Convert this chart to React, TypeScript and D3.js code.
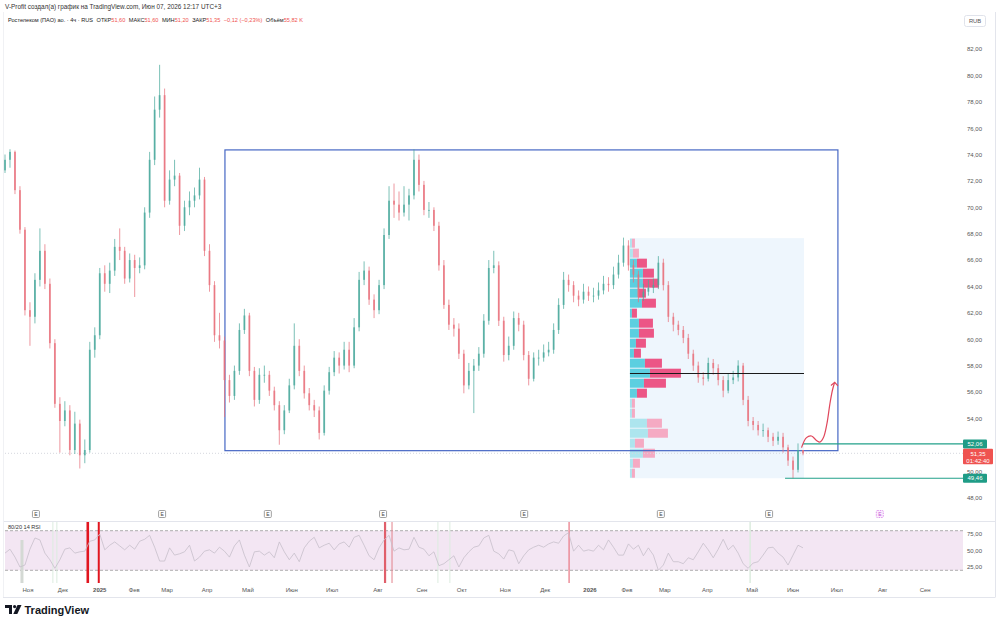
import React, { useEffect, useRef } from 'react';
import * as d3 from 'd3';

// 4h candles, resampled (~one candle every 5px of the original picture)
const firstOpen = 72.8;
const closes = [
  73.6, 74.2, 71.3, 68.3, 62.2, 61.7, 64.5, 66.7, 64.2, 59.7,
  55.1, 53.8, 54.6, 51.6, 53.6, 51.2, 51.6, 59.2, 60.3, 65.0,
  64.2, 65.2, 67.0, 66.7, 64.6, 66.0, 65.4, 65.6, 69.6, 73.6,
  77.4, 78.5, 70.5, 72.1, 72.4, 68.6, 70.0, 70.5, 70.9, 72.1,
  66.7, 64.1, 60.3, 59.9, 56.9, 55.7, 57.6, 60.7, 61.8, 57.6,
  55.4, 57.3, 57.3, 56.1, 55.0, 53.1, 54.6, 56.5, 59.5, 57.6,
  55.9, 55.0, 54.6, 52.9, 56.1, 57.5, 58.6, 58.0, 59.2, 58.0,
  60.9, 64.5, 65.2, 63.0, 62.2, 64.1, 67.9, 70.5, 70.2, 69.6,
  70.2, 70.9, 73.6, 71.7, 69.8, 69.8, 68.6, 65.6, 62.6, 61.1,
  60.8, 58.9, 56.5, 57.6, 58.0, 58.9, 61.4, 65.4, 65.6, 61.4,
  58.8, 59.5, 61.6, 61.1, 58.8, 57.0, 58.6, 58.6, 59.0, 59.2,
  60.7, 62.6, 64.5, 64.1, 63.3, 63.0, 63.6, 63.3, 63.3, 63.7,
  64.2, 64.1, 64.9, 65.8, 67.1, 65.6, 64.9, 63.2, 63.6, 63.9,
  64.1, 65.8, 64.1, 61.7, 61.1, 60.7, 60.1, 58.9, 58.0, 57.1,
  57.0, 58.2, 57.8, 56.9, 56.1, 56.9, 57.1, 58.0, 55.4, 53.8,
  53.5, 53.1, 53.1, 52.6, 52.3, 52.6, 51.8, 50.8, 50.1, 51.6,
  51.35,
];
const highs = [
  74.0, 74.4, 74.3, 71.6, 68.5, 62.8, 65.0, 68.4, 67.2, 64.6,
  60.0, 55.6, 55.3, 55.0, 54.5, 53.9, 52.4, 59.8, 60.9, 65.4,
  65.6, 65.8, 67.6, 68.4, 67.0, 66.5, 66.4, 66.2, 70.0, 74.2,
  78.4, 80.8, 79.0, 72.8, 73.6, 72.6, 70.5, 71.2, 71.5, 73.0,
  72.3, 67.2, 64.4, 62.0, 60.2, 57.3, 58.0, 61.2, 62.3, 62.0,
  57.9, 57.8, 58.0, 57.6, 56.4, 55.3, 55.0, 57.0, 61.2, 60.0,
  58.0, 56.3, 55.4, 54.9, 56.5, 57.9, 59.1, 59.0, 59.8, 59.8,
  61.6, 65.1, 65.9, 65.5, 63.4, 64.5, 68.4, 71.6, 71.8, 71.2,
  71.6, 71.4, 74.4, 74.0, 72.0, 70.4, 70.0, 68.9, 66.0, 63.0,
  61.6, 61.2, 59.2, 58.2, 58.5, 59.4, 61.9, 66.0, 66.7, 65.9,
  61.7, 60.2, 62.1, 62.0, 61.4, 59.1, 59.0, 59.2, 59.6, 59.8,
  61.2, 63.1, 65.1, 64.9, 64.4, 63.7, 64.2, 64.0, 63.9, 64.3,
  64.8, 64.7, 65.5, 66.4, 67.7, 67.5, 66.0, 65.2, 64.2, 64.5,
  64.6, 66.3, 66.1, 64.4, 62.0, 61.4, 61.0, 60.4, 59.2, 58.3,
  57.5, 58.6, 58.5, 58.1, 57.2, 57.4, 57.6, 58.4, 58.2, 55.7,
  54.1, 53.8, 53.6, 53.3, 52.9, 53.0, 52.9, 52.0, 51.1, 52.1,
  51.6,
];
const lows = [
  72.6, 73.0, 71.0, 68.0, 61.8, 59.5, 61.2, 64.0, 63.8, 59.3,
  54.8, 51.4, 53.4, 51.2, 51.3, 50.2, 50.6, 51.4, 58.6, 60.0,
  63.6, 63.5, 64.8, 66.0, 64.2, 64.3, 63.2, 65.0, 65.3, 69.2,
  73.2, 76.8, 70.0, 70.2, 71.6, 67.9, 68.2, 69.4, 70.0, 70.6,
  66.3, 63.6, 59.8, 59.3, 54.1, 55.2, 55.4, 57.3, 60.4, 57.2,
  54.9, 55.1, 56.7, 55.7, 54.6, 52.0, 52.8, 54.4, 56.2, 57.2,
  55.5, 54.6, 54.1, 52.4, 52.7, 55.8, 57.2, 57.4, 57.7, 57.5,
  57.8, 60.6, 64.1, 62.6, 61.6, 61.9, 63.8, 67.6, 69.2, 69.0,
  69.3, 69.0, 70.6, 71.2, 69.4, 69.2, 68.2, 65.2, 62.3, 60.7,
  60.2, 58.5, 55.9, 56.2, 54.4, 57.6, 58.6, 61.1, 65.0, 61.0,
  58.3, 58.4, 59.2, 60.6, 58.4, 56.5, 56.8, 58.0, 58.3, 58.7,
  58.9, 60.4, 62.3, 63.6, 62.8, 62.5, 62.7, 62.9, 62.8, 63.0,
  63.4, 63.6, 63.8, 64.6, 65.5, 65.2, 64.3, 62.8, 62.9, 63.3,
  63.5, 63.8, 63.7, 61.3, 60.6, 60.3, 59.7, 58.5, 57.6, 56.7,
  56.5, 56.8, 57.3, 56.5, 55.6, 55.9, 56.6, 56.8, 55.0, 53.4,
  53.1, 52.7, 52.6, 52.2, 51.9, 52.0, 51.4, 50.4, 49.46, 49.9,
  51.2,
];

// RSI(14), same bar grid
const rsiValues = [
  46, 52, 40, 25, 28, 52, 69, 66, 46, 36,
  23, 36, 52, 54, 46, 48, 49, 64, 66, 75,
  51, 58, 63, 57, 51, 58, 52, 64, 67, 73,
  55, 34, 34, 54, 43, 45, 48, 58, 34, 40,
  49, 51, 46, 55, 49, 40, 57, 66, 43, 25,
  48, 49, 43, 48, 39, 63, 48, 36, 46, 33,
  54, 64, 70, 54, 58, 61, 51, 60, 63, 55,
  70, 73, 58, 42, 36, 54, 66, 73, 49, 54,
  51, 52, 70, 55, 52, 42, 48, 27, 30, 36,
  42, 25, 39, 48, 55, 57, 69, 73, 49, 45,
  37, 51, 49, 30, 42, 51, 55, 58, 55, 60,
  63, 61, 72, 77, 49, 58, 49, 51, 49, 58,
  51, 66, 55, 43, 43, 60, 52, 58, 42, 54,
  43, 20, 28, 46, 33, 33, 30, 39, 36, 48,
  61, 51, 39, 52, 67, 51, 58, 46, 30, 23,
  31, 33, 43, 54, 55, 46, 40, 28, 43, 58,
  54,
];
const rsiTicks = [75, 50, 25];
const rsiBands = [80, 20];

// time axis (month starts, in bar positions)
const monthLabels = ['Ноя', 'Дек', '2025', 'Фев', 'Мар', 'Апр', 'Май', 'Июн', 'Июл', 'Авг', 'Сен', 'Окт',
  'Ноя', 'Дек', '2026', 'Фев', 'Мар', 'Апр', 'Май', 'Июн', 'Июл', 'Авг', 'Сен'];
const monthIndex = [4.6, 11.6, 19.0, 25.9, 32.5, 40.5, 48.7, 57.5, 65.6, 74.8, 83.6, 91.6,
  100.3, 108.3, 117.3, 124.7, 132.3, 140.8, 149.8, 158.0, 166.8, 176.0, 184.5];

const priceTicks = [82, 80, 78, 76, 74, 72, 70, 68, 66, 64, 62, 60, 58, 56, 54, 50, 48];

// earnings markers, signal lines on RSI pane
const earningsIndex = [6.2, 31.5, 52.7, 75.8, 104.1, 131.5, 153.2, 175.4];
const sellSignals = [16.6, 18.8, 76.2, 77.6, 113.1];
const buySignals = [3.4, 9.6, 10.4, 86.8, 89.2, 149.4];

// visible range volume profile, rows from top to bottom
const profileHigh = 67.66;
const profileLow = 49.46;
const profileStart = 125.3;
const profileEnd = 160.2;
const profileUp = [2, 3, 7, 13, 13, 8, 12, 2, 9, 9, 6, 4, 15, 20, 14, 7, 2, 2, 17, 18, 5, 13, 3, 2];
const profileDown = [3, 6, 10, 11, 16, 8, 14, 5, 14, 15, 10, 7, 17, 31, 22, 10, 3, 3, 15, 20, 9, 12, 7, 3];
const valueAreaRows = [2, 15];
const pocPrice = 57.4;

// drawings
const rangeBox = { start: 44.1, end: 167.0, top: 74.35, bottom: 51.55 };
const levels = [{ price: 52.06, from: 160.0 }, { price: 49.46, from: 156.4 }];
const lastPrice = 51.35;
const arrowPath = [
  [159.7, 51.78], [160.7, 52.54], [161.7, 52.66], [162.7, 52.33], [163.4, 52.2],
  [164.1, 52.54], [164.8, 53.6], [165.4, 55.12], [165.9, 56.13], [166.3, 56.68],
];

export default function App() {
  const svgRef = useRef(null);

  useEffect(() => {
    const svg = d3.select(svgRef.current);
    svg.selectAll('*').remove();
    const font = '"Liberation Sans", Arial, sans-serif';
    const fmt = (v) => v.toFixed(2).replace('.', ',');

    const x = d3.scaleLinear().domain([0, closes.length - 1]).range([5, 803]);
    const y = d3.scaleLinear().domain([48, 82]).range([497.5, 49]);
    const yRsi = d3.scaleLinear().domain([25, 75]).range([567, 534]);
    const right = 963;

    svg.append('rect').attr('width', 1000).attr('height', 625).attr('fill', '#fff');

    // frame
    const frame = '#e3e5ec';
    svg.append('line').attr('x1', 995.5).attr('x2', 995.5).attr('y1', 12).attr('y2', 597).attr('stroke', frame);
    svg.append('line').attr('x1', 3).attr('x2', 995.5).attr('y1', 597.5).attr('y2', 597.5).attr('stroke', frame);
    svg.append('line').attr('x1', 3).attr('x2', 995.5).attr('y1', 521.5).attr('y2', 521.5).attr('stroke', frame);
    svg.append('line').attr('x1', 3.5).attr('x2', 3.5).attr('y1', 12).attr('y2', 597).attr('stroke', '#f0f1f4');

    // header
    svg.append('text').attr('x', 5).attr('y', 8.5).attr('font-family', font).attr('font-size', 6.4)
      .attr('fill', '#333').text('V-Profit создал(а) график на TradingView.com, Июн 07, 2026 12:17 UTC+3');
    const h2 = svg.append('text').attr('x', 8).attr('y', 21.5).attr('font-family', font)
      .attr('font-size', 5.6).attr('fill', '#222');
    const red = '#ef5350';
    const parts = [
      ['Ростелеком (ПАО) ао. · 4ч · RUS', '#222', 0],
      ['ОТКР', '#222', 3.5], ['51,60', red, 0],
      ['МАКС', '#222', 3.5], ['51,60', red, 0],
      ['МИН', '#222', 3.5], ['51,20', red, 0],
      ['ЗАКР', '#222', 3.5], ['51,35', red, 0],
      ['−0,12 (−0,23%)', red, 3.5],
      ['Объём', '#222', 3.5], ['55,82 K', red, 0],
    ];
    parts.forEach(([t, c, dx]) => h2.append('tspan').attr('dx', dx).attr('fill', c).text(t));

    // RUB box
    svg.append('rect').attr('x', 964.5).attr('y', 15.5).attr('width', 21).attr('height', 11).attr('rx', 2)
      .attr('fill', '#fff').attr('stroke', '#e0e3eb');
    svg.append('text').attr('x', 975).attr('y', 23).attr('text-anchor', 'middle').attr('font-family', font)
      .attr('font-size', 5.8).attr('fill', '#555').text('RUB');

    // volume profile
    const px0 = x(profileStart);
    svg.append('rect').attr('x', px0).attr('y', y(profileHigh)).attr('width', x(profileEnd) - px0)
      .attr('height', y(profileLow) - y(profileHigh)).attr('fill', '#eef6fd');
    const rowH = (profileHigh - profileLow) / profileUp.length;
    const totals = profileUp.map((u, i) => u + profileDown[i]);
    const w = d3.scaleLinear().domain([0, d3.max(totals)]).range([0, 51]);
    profileUp.forEach((u, i) => {
      const top = profileHigh - i * rowH;
      const yy = y(top) + 0.5;
      const hh = y(top - rowH) - y(top) - 1;
      const inVA = i >= valueAreaRows[0] && i <= valueAreaRows[1];
      svg.append('rect').attr('x', px0).attr('y', yy).attr('width', w(u)).attr('height', hh)
        .attr('fill', inVA ? '#5ccfe0' : '#ade5ee');
      svg.append('rect').attr('x', px0 + w(u)).attr('y', yy).attr('width', w(profileDown[i])).attr('height', hh)
        .attr('fill', inVA ? '#ec5686' : '#f5aac3');
    });

    // range box
    svg.append('rect').attr('x', x(rangeBox.start)).attr('y', y(rangeBox.top))
      .attr('width', x(rangeBox.end) - x(rangeBox.start)).attr('height', y(rangeBox.bottom) - y(rangeBox.top))
      .attr('fill', 'none').attr('stroke', '#4667c4').attr('stroke-width', 1.2);

    // last price dotted line
    svg.append('line').attr('x1', 5).attr('x2', right).attr('y1', y(lastPrice)).attr('y2', y(lastPrice))
      .attr('stroke', '#d5d8de').attr('stroke-dasharray', '1,2');

    // candles
    const candles = closes.map((c, i) => {
      const o = i === 0 ? firstOpen : closes[i - 1];
      return { i, o, c, h: Math.max(highs[i], o, c), l: Math.min(lows[i], o, c) };
    });
    const cg = svg.append('g');
    candles.forEach((d) => {
      const col = d.c >= d.o ? '#4aa99c' : '#e8717c';
      cg.append('line').attr('x1', x(d.i)).attr('x2', x(d.i)).attr('y1', y(d.h)).attr('y2', y(d.l))
        .attr('stroke', col).attr('stroke-width', 0.9).attr('opacity', 0.8);
      const top = y(Math.max(d.o, d.c));
      cg.append('rect').attr('x', x(d.i) - 0.9).attr('width', 1.8).attr('y', top)
        .attr('height', Math.max(0.8, y(Math.min(d.o, d.c)) - top)).attr('fill', col).attr('opacity', 0.8);
    });

    // POC
    svg.append('line').attr('x1', px0).attr('x2', x(profileEnd)).attr('y1', y(pocPrice)).attr('y2', y(pocPrice))
      .attr('stroke', '#1a1a1a').attr('stroke-width', 1.2);

    // horizontal levels
    levels.forEach((lv) => {
      svg.append('line').attr('x1', x(lv.from)).attr('x2', right).attr('y1', y(lv.price)).attr('y2', y(lv.price))
        .attr('stroke', '#22a08a').attr('stroke-width', 1.2);
    });

    // forecast arrow
    const line = d3.line().x((d) => x(d[0])).y((d) => y(d[1])).curve(d3.curveCatmullRom);
    svg.append('path').attr('d', line(arrowPath)).attr('fill', 'none').attr('stroke', '#e0475c').attr('stroke-width', 1.2);
    const tip = arrowPath[arrowPath.length - 1];
    svg.append('path')
      .attr('d', `M${x(tip[0]) - 3.5},${y(tip[1]) + 2.5} L${x(tip[0]) + 0.3},${y(tip[1]) - 0.6} L${x(tip[0]) + 3.5},${y(tip[1]) + 2.8}`)
      .attr('fill', 'none').attr('stroke', '#e0475c').attr('stroke-width', 1.2);

    // price scale
    const pAxis = svg.append('g').attr('transform', 'translate(964,0)')
      .call(d3.axisRight(y).tickValues(priceTicks).tickSize(0).tickPadding(3).tickFormat((d) => fmt(+d)));
    pAxis.select('.domain').remove();
    pAxis.selectAll('text').attr('font-family', font).attr('font-size', 6).attr('fill', '#555');

    // price labels
    const tag = (price, color, w0, h0, lines) => {
      const yy = y(price);
      svg.append('rect').attr('x', 963).attr('y', yy - 4.5).attr('width', w0).attr('height', h0)
        .attr('rx', 1).attr('fill', color);
      lines.forEach((t, k) => {
        svg.append('text').attr('x', 963 + w0 / 2).attr('y', yy + 2.2 + k * 7).attr('text-anchor', 'middle')
          .attr('font-family', font).attr('font-size', 6).attr('fill', '#fff').text(t);
      });
    };
    tag(levels[0].price, '#1f9c86', 24, 9, [fmt(levels[0].price)]);
    tag(lastPrice, '#ef5350', 30, 15.5, [fmt(lastPrice), '01:42:40']);
    tag(levels[1].price, '#1f9c86', 24, 9, [fmt(levels[1].price)]);

    // earnings markers
    earningsIndex.forEach((ei, k) => {
      const last = k === earningsIndex.length - 1;
      const cx = x(ei);
      svg.append('rect').attr('x', cx - 3.5).attr('y', 510.5).attr('width', 7).attr('height', 7).attr('rx', 1)
        .attr('fill', last ? '#fbeefd' : '#fff').attr('stroke', last ? '#d77fe8' : '#888')
        .attr('stroke-dasharray', last ? '1.5,1' : null).attr('stroke-width', 0.8);
      svg.append('text').attr('x', cx).attr('y', 516.3).attr('text-anchor', 'middle').attr('font-family', font)
        .attr('font-size', 5).attr('fill', last ? '#c04fd6' : '#444').text('E');
    });

    // RSI pane
    svg.append('rect').attr('x', 5).attr('y', yRsi(rsiBands[0])).attr('width', right - 5)
      .attr('height', yRsi(rsiBands[1]) - yRsi(rsiBands[0])).attr('fill', '#f3e6f3');
    rsiBands.forEach((b) => {
      svg.append('line').attr('x1', 5).attr('x2', right).attr('y1', yRsi(b)).attr('y2', yRsi(b))
        .attr('stroke', '#9a9a9a').attr('stroke-width', 0.8).attr('stroke-dasharray', '3,2');
    });
    const buyW = [3, 1, 1, 1, 1, 1.5];
    buySignals.forEach((b, k) => {
      svg.append('line').attr('x1', x(b)).attr('x2', x(b)).attr('y1', k === 0 ? 540 : 522).attr('y2', 583)
        .attr('stroke', k === 0 ? '#d4d9d4' : '#dcecdf').attr('stroke-width', buyW[k]);
    });
    const sellW = [2.6, 2, 2.2, 1, 1.3];
    const sellC = ['#e1151f', '#e1151f', '#e05f6b', '#e3818c', '#ea7e8a'];
    sellSignals.forEach((s, k) => {
      svg.append('line').attr('x1', x(s)).attr('x2', x(s)).attr('y1', 522).attr('y2', 583)
        .attr('stroke', sellC[k]).attr('stroke-width', sellW[k]);
    });
    const rsiLine = d3.line().x((d, i) => x(i)).y((d) => yRsi(d));
    svg.append('path').attr('d', rsiLine(rsiValues)).attr('fill', 'none').attr('stroke', '#c6bfca').attr('stroke-width', 0.8);
    svg.append('text').attr('x', 8).attr('y', 529).attr('font-family', font).attr('font-size', 5.6)
      .attr('fill', '#333').text('80/20 14 RSI');
    const rAxis = svg.append('g').attr('transform', 'translate(964,0)')
      .call(d3.axisRight(yRsi).tickValues(rsiTicks).tickSize(0).tickPadding(3).tickFormat((d) => fmt(+d)));
    rAxis.select('.domain').remove();
    rAxis.selectAll('text').attr('font-family', font).attr('font-size', 6).attr('fill', '#555');

    // time axis
    svg.append('g').selectAll('text').data(monthLabels).enter().append('text')
      .attr('x', (d, i) => x(monthIndex[i])).attr('y', 592).attr('text-anchor', 'middle')
      .attr('font-family', font).attr('font-size', 6)
      .attr('font-weight', (d) => (d.length === 4 ? 'bold' : 'normal'))
      .attr('fill', '#555').text((d) => d);

    // logo
    const logo = svg.append('g').attr('fill', '#131722');
    logo.append('path').attr('d', 'M5,605 h7 v9 h-3 v-6 h-4 z');
    logo.append('circle').attr('cx', 14.6).attr('cy', 606.6).attr('r', 1.6);
    logo.append('path').attr('d', 'M17.5,605 h4 l-4.2,9 h-4 z');
    logo.append('text').attr('x', 24.5).attr('y', 614).attr('font-family', font).attr('font-size', 11)
      .attr('font-weight', 'bold').text('TradingView');
  }, []);

  return <svg ref={svgRef} width={1000} height={625} style={{ position: 'absolute', left: 0, top: 0 }} />;
}
